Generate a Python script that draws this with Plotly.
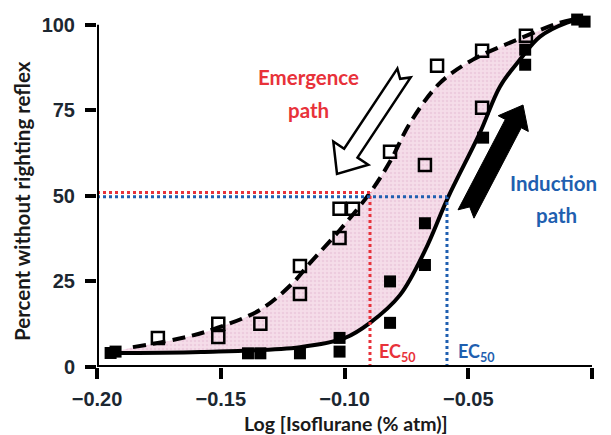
import numpy as np
import plotly.graph_objects as go

# ---------------- data ----------------
emergence_x = [-0.1754, -0.151, -0.151, -0.134, -0.118, -0.118, -0.102, -0.102,
               -0.0966, -0.0816, -0.0675, -0.0626, -0.0444, -0.0444, -0.0267]
emergence_y = [8.5, 12.6, 8.8, 12.6, 29.5, 21.3, 37.7, 46.2,
               46.2, 62.9, 59.0, 88.0, 92.4, 75.7, 96.8]

induction_x = [-0.1945, -0.1925, -0.139, -0.134, -0.118, -0.102, -0.102,
               -0.0816, -0.0816, -0.0675, -0.0675, -0.044, -0.027, -0.027,
               -0.006, -0.003]
induction_y = [4.1, 4.5, 4.0, 4.0, 4.0, 4.5, 8.5,
               25.0, 12.9, 42.0, 29.8, 67.0, 88.3, 92.7,
               101.5, 100.9]

# fitted curves
emergence_fit_x = [-0.1855, -0.1636, -0.1515, -0.1341, -0.1208, -0.1139, -0.1018,
                   -0.0897, -0.0816, -0.0735, -0.0614, -0.0481, -0.0303, -0.0129, -0.0036]
emergence_fit_y = [5.8, 8.8, 11.4, 16.7, 24.6, 30.4, 40.1,
                   50.9, 60.0, 71.3, 83.0, 89.8, 95.6, 100.6, 102.0]

induction_fit_x = [-0.1947, -0.158, -0.118, -0.0998, -0.0897, -0.0776, -0.0675,
                   -0.0582, -0.0453, -0.0372, -0.0291, -0.021, -0.0101, -0.002]
induction_fit_y = [4.1, 4.4, 5.8, 8.5, 12.9, 21.0, 34.0,
                   49.5, 68.4, 81.9, 89.8, 96.5, 100.6, 102.0]

ec50_emergence = -0.0897
ec50_induction = -0.0586
half_emergence = 51.0
half_induction = 49.7

x_tickvals = [-0.20, -0.15, -0.10, -0.05, 0.00]
x_ticktext = ["\u22120.20", "\u22120.15", "\u22120.10", "\u22120.05", "0.00"]
y_tickvals = [0, 25, 50, 75, 100]
y_ticktext = ["0", "25", "50", "75", "100"]

# ---------------- layout constants ----------------
W, H = 611, 435
ML, MR, MT, MB = 97, 19, 11, 68
XR = [-0.2, 0.0]
YR = [0, 104]

RED = "#e8323a"
BLUE = "#1f5fb0"
TICKCOL = "#1c2731"


def px2data(px, py):
    x = XR[0] + (px - ML) / (W - ML - MR) * (XR[1] - XR[0])
    y = YR[0] + (H - MB - py) / (H - MT - MB) * (YR[1] - YR[0])
    return x, y


def arrow_path(tail, tip, hw, hh, hl, notch):
    T = np.array(tail, float)
    P = np.array(tip, float)
    d = P - T
    u = d / np.linalg.norm(d)
    n = np.array([-u[1], u[0]])
    B = P - u * hl
    pts = [T + n * hw, B + n * hw, B + n * hh, P, B - n * hh, B - n * hw,
           T - n * hw, T + u * notch]
    conv = [px2data(*p) for p in pts]
    return "M " + " L ".join(f"{x:.5f},{y:.4f}" for x, y in conv) + " Z"


fig = go.Figure()

# shaded region between curves
fig.add_trace(go.Scatter(x=induction_fit_x, y=induction_fit_y, mode="lines",
                         line=dict(width=0, shape="spline"), hoverinfo="skip",
                         showlegend=False))
fig.add_trace(go.Scatter(x=emergence_fit_x, y=emergence_fit_y, mode="lines",
                         line=dict(width=0, shape="spline"), fill="tonexty",
                         fillcolor="#f4dae7",
                         fillpattern=dict(shape=".", bgcolor="#f5dde9",
                                          fgcolor="#e6bcd3", size=4, solidity=0.35),
                         hoverinfo="skip", showlegend=False))

# fitted curves
fig.add_trace(go.Scatter(x=induction_fit_x, y=induction_fit_y, mode="lines",
                         line=dict(color="black", width=4, shape="spline"),
                         showlegend=False))
fig.add_trace(go.Scatter(x=emergence_fit_x, y=emergence_fit_y, mode="lines",
                         line=dict(color="black", width=4, shape="spline",
                                   dash="13px,7px"),
                         showlegend=False))

# data points
fig.add_trace(go.Scatter(x=induction_x, y=induction_y, mode="markers",
                         marker=dict(symbol="square", size=12, color="black",
                                     line=dict(width=0)),
                         cliponaxis=False, showlegend=False))
fig.add_trace(go.Scatter(x=emergence_x, y=emergence_y, mode="markers",
                         marker=dict(symbol="square-open", size=12, color="black",
                                     line=dict(width=2.5, color="black")),
                         cliponaxis=False, showlegend=False))

shapes = []
# EC50 guide lines
shapes.append(dict(type="line", xref="x", yref="y", x0=XR[0], x1=ec50_emergence,
                   y0=half_emergence, y1=half_emergence,
                   line=dict(color=RED, width=3, dash="dot")))
shapes.append(dict(type="line", xref="x", yref="y", x0=ec50_emergence, x1=ec50_emergence,
                   y0=0, y1=half_emergence, line=dict(color=RED, width=3, dash="dot")))
shapes.append(dict(type="line", xref="x", yref="y", x0=XR[0], x1=ec50_induction,
                   y0=half_induction, y1=half_induction,
                   line=dict(color=BLUE, width=3, dash="dot")))
shapes.append(dict(type="line", xref="x", yref="y", x0=ec50_induction, x1=ec50_induction,
                   y0=0, y1=half_induction, line=dict(color=BLUE, width=3, dash="dot")))

# axis lines
shapes.append(dict(type="line", xref="x", yref="y", x0=XR[0], x1=XR[0], y0=0, y1=100,
                   line=dict(color="black", width=4)))
shapes.append(dict(type="line", xref="x", yref="y", x0=XR[0], x1=XR[1], y0=0, y1=0,
                   line=dict(color="black", width=4)))

# arrows
shapes.append(dict(type="path", xref="x", yref="y",
                   path=arrow_path((404, 73), (337, 174), 8, 21, 25, 7),
                   fillcolor="white", line=dict(color="black", width=2.5)))
shapes.append(dict(type="path", xref="x", yref="y",
                   path=arrow_path((466, 214), (523, 105), 9, 17, 21, 8),
                   fillcolor="black", line=dict(color="black", width=1)))

annotations = []


def ann_px(px, py, text, color, size=20.5, xanchor="center"):
    x, y = px2data(px, py)
    annotations.append(dict(x=x, y=y, xref="x", yref="y", text=text, showarrow=False,
                            xanchor=xanchor, yanchor="middle",
                            font=dict(family="Lato", size=size, weight="bold",
                                      color=color)))


ann_px(308, 77, "Emergence", RED)
ann_px(308, 110, "path", RED)
ann_px(553, 183, "Induction", BLUE)
ann_px(556, 215, "path", BLUE)
ann_px(377, 352, "EC<sub>50</sub>", RED, size=18, xanchor="left")
ann_px(456, 352, "EC<sub>50</sub>", BLUE, size=18, xanchor="left")

# axis titles
annotations.append(dict(x=(22 - ML) / (W - ML - MR), y=(H - MB - 201) / (H - MT - MB),
                        xref="paper", yref="paper", text="Percent without righting reflex",
                        textangle=-90, showarrow=False, xanchor="center", yanchor="middle",
                        font=dict(family="Lato", size=20.5, weight="bold", color="#1a1a1a")))
annotations.append(dict(x=(346 - ML) / (W - ML - MR), y=(H - MB - 423) / (H - MT - MB),
                        xref="paper", yref="paper", text="Log [Isoflurane (% atm)]",
                        showarrow=False, xanchor="center", yanchor="middle",
                        font=dict(family="Lato", size=19.5, weight="bold", color="#1a1a1a")))

TICKFONT = dict(family="Liberation Sans", size=20, weight="bold", color=TICKCOL)

fig.update_layout(
    width=W, height=H,
    margin=dict(l=ML, r=MR, t=MT, b=MB, pad=0),
    plot_bgcolor="white", paper_bgcolor="white",
    shapes=shapes, annotations=annotations,
    xaxis=dict(range=XR, tickvals=x_tickvals, ticktext=x_ticktext, showgrid=False,
               zeroline=False, showline=False, ticks="outside", ticklen=11, tickwidth=4,
               tickcolor="black", tickfont=TICKFONT, ticklabelstandoff=3),
    yaxis=dict(range=YR, tickvals=y_tickvals, ticktext=y_ticktext, showgrid=False,
               zeroline=False, showline=False, ticks="outside", ticklen=11, tickwidth=4,
               tickcolor="black", tickfont=TICKFONT, ticklabelstandoff=6),
)

fig.write_html("out.html")
